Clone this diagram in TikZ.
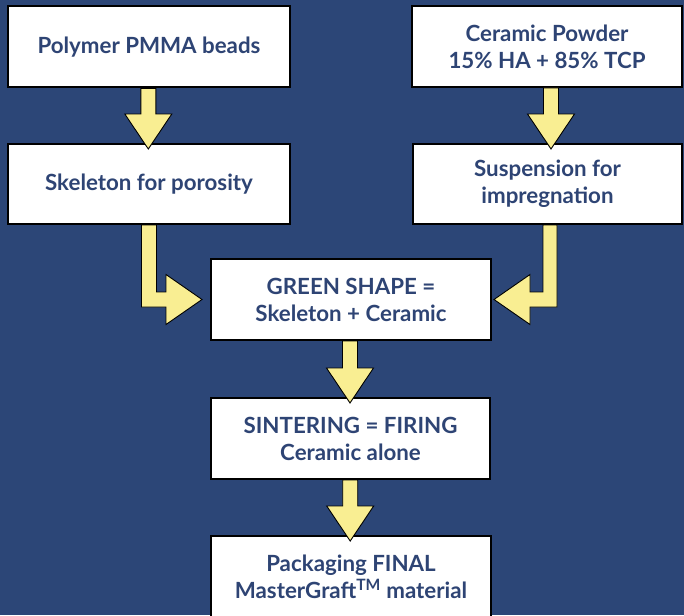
\documentclass[tikz,border=0pt]{standalone}
\usepackage{fontspec}
\setmainfont{Lato}
\usetikzlibrary{calc}
\definecolor{bg}{HTML}{2C4677}
\definecolor{txt}{HTML}{2E4474}
\definecolor{yel}{HTML}{F9EE92}
\tikzset{
  box/.style={draw=black, line width=2pt, fill=white, text=txt, font=\bfseries\fontsize{22.3}{27}\selectfont,
    align=center, inner sep=0pt},
  blk/.style={draw=black, line width=0.9pt, fill=yel, line join=miter},
}
\newcommand\downarr[3]{%
  \draw[blk] let \p1=(#1.south), \p2=(#2.north) in
    (\x1+#3-7.5pt,\y1) -- (\x1+#3-7.5pt,\y2+29pt) -- (\x1+#3-23.5pt,\y2+29pt) -- (\x1+#3,\y2-6pt)
    -- (\x1+#3+23.5pt,\y2+29pt) -- (\x1+#3+7.5pt,\y2+29pt) -- (\x1+#3+7.5pt,\y1) -- cycle;}
\begin{document}
\begin{tikzpicture}[x=1pt,y=-1pt]
\useasboundingbox (0,0) rectangle (684,615);
\fill[bg] (0,0) rectangle (684,615);
\begin{scope}
\clip (0,0) rectangle (684,615);
\node[box, minimum width=282pt, minimum height=81pt] (b1) at (149,47) {Polymer PMMA beads};
\node[box, minimum width=270pt, minimum height=81pt] (b2) at (547,46.5) {Ceramic Powder\\15\% HA + 85\% TCP};
\node[box, minimum width=282pt, minimum height=80pt] (b3) at (149,184) {Skeleton for porosity};
\node[box, minimum width=269pt, minimum height=80pt] (b4) at (547.5,184) {Suspension for\\impregnation};
\node[box, minimum width=280pt, minimum height=81pt] (b5) at (351,299.5) {GREEN SHAPE =\\Skeleton + Ceramic};
\node[box, minimum width=279pt, minimum height=81pt] (b6) at (350.5,438.5) {SINTERING = FIRING\\Ceramic alone};
\node[box, minimum width=280pt, minimum height=81pt] (b7) at (351,576.5) {Packaging FINAL\\MasterGraft\textsuperscript{TM} material};
\downarr{b1}{b3}{-0.7pt}
\downarr{b2}{b4}{4pt}
\downarr{b5}{b6}{-1pt}
\downarr{b6}{b7}{-0.3pt}
\draw[blk] let \p1=(b3.south), \p2=(b5.west) in
  (\x1-7.5pt,\y1) -- (\x1-7.5pt,\y2-7.5pt) -- (\x2-44pt,\y2-7.5pt) -- (\x2-44pt,\y2-25pt)
  -- (\x2-8pt,\y2) -- (\x2-44pt,\y2+25pt) -- (\x2-44pt,\y2+7.5pt) -- (\x1+7.5pt,\y2+7.5pt)
  -- (\x1+7.5pt,\y1) -- cycle;
\draw[blk] let \p1=(b4.south), \p2=(b5.east) in
  (\x1+9.5pt,\y1) -- (\x1+9.5pt,\y2-7.5pt) -- (\x2+38pt,\y2-7.5pt) -- (\x2+38pt,\y2-25pt)
  -- (\x2+2pt,\y2) -- (\x2+38pt,\y2+25pt) -- (\x2+38pt,\y2+7.5pt) -- (\x1-4.5pt,\y2+7.5pt)
  -- (\x1-4.5pt,\y1) -- cycle;
\end{scope}
\end{tikzpicture}
\end{document}
